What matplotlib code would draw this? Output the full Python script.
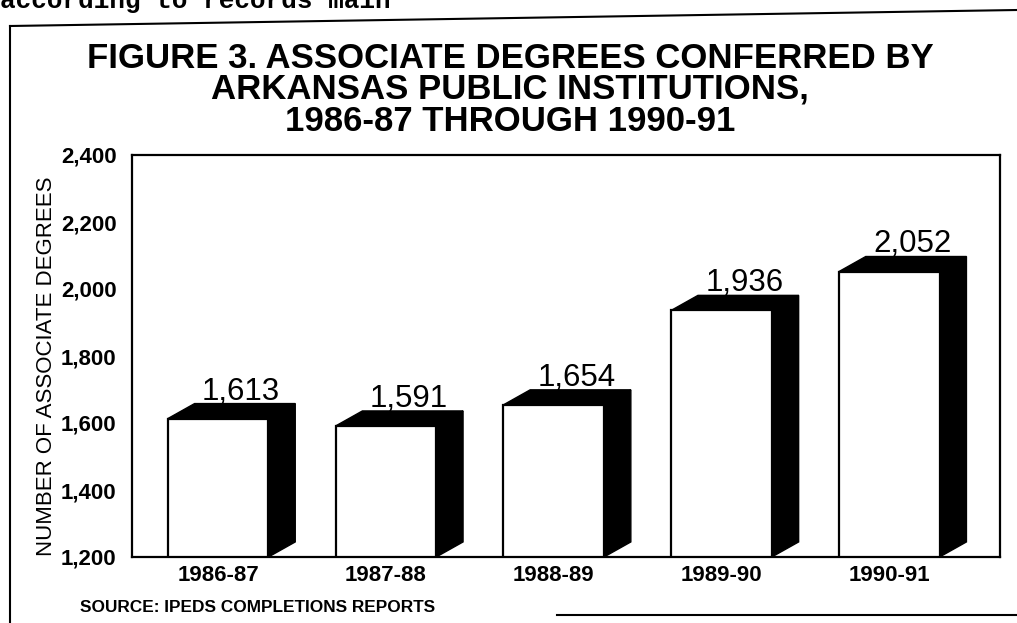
import matplotlib
matplotlib.use('Agg')
import matplotlib.pyplot as plt
from matplotlib.patches import Polygon
from matplotlib.lines import Line2D

### data
years = ['1986-87', '1987-88', '1988-89', '1989-90', '1990-91']
degrees = [1613, 1591, 1654, 1936, 2052]
y_ticks = [1200, 1400, 1600, 1800, 2000, 2200, 2400]

W, H = 1017, 623
plt.rcParams['font.family'] = ['Liberation Sans', 'DejaVu Sans']

fig = plt.figure(figsize=(W / 100, H / 100), dpi=100)
fig.patch.set_facecolor('white')

# plot box (pixel positions)
left, right, top, bottom = 132, 1000, 155, 557
ax = fig.add_axes([left / W, 1 - bottom / H, (right - left) / W, (bottom - top) / H])

bar_w = 0.6     # front face width
dx = 0.16       # 3d depth to the right
dy = 45         # 3d depth upwards (data units)
base = 1200

x = list(range(len(years)))
ax.bar(x, [v - base for v in degrees], bottom=base, width=bar_w,
       color='white', edgecolor='black', linewidth=1.6, zorder=3)

for xi, v in zip(x, degrees):
    x0, x1 = xi - bar_w / 2, xi + bar_w / 2
    # top face
    ax.add_patch(Polygon([(x0, v), (x0 + dx, v + dy), (x1 + dx, v + dy), (x1, v)],
                         closed=True, facecolor='black', edgecolor='black', lw=1, zorder=2))
    # side face
    ax.add_patch(Polygon([(x1, base), (x1, v), (x1 + dx, v + dy), (x1 + dx, base + dy)],
                         closed=True, facecolor='black', edgecolor='black', lw=1, zorder=2))
    ax.text(xi + 0.137, v + dy + 12, f'{v:,}', ha='center', va='baseline',
            fontsize=22.5, color='black', zorder=4)

ax.set_xlim(-0.513, 4.66)
ax.set_ylim(1200, 2400)
ax.set_yticks(y_ticks)
ax.set_yticklabels([f'{t:,}' for t in y_ticks], fontsize=16, fontweight='bold')
ax.set_xticks(x)
ax.set_xticklabels(years, fontsize=16, fontweight='bold')
ax.tick_params(axis='y', length=0, pad=11)
ax.tick_params(axis='x', length=0, pad=6)
for s in ax.spines.values():
    s.set_linewidth(1.6)

# titles and notes
title_lines = ['FIGURE 3. ASSOCIATE DEGREES CONFERRED BY',
               'ARKANSAS PUBLIC INSTITUTIONS,',
               '1986-87 THROUGH 1990-91']
for line, yb in zip(title_lines, [68, 99, 131]):
    fig.text(510 / W, 1 - yb / H, line, ha='center', va='baseline',
             fontsize=25, fontweight='bold')

fig.text(47 / W, 1 - 366 / H, 'NUMBER OF ASSOCIATE DEGREES', rotation=90,
         ha='center', va='center', fontsize=16)
fig.text(80 / W, 1 - 612 / H, 'SOURCE: IPEDS COMPLETIONS REPORTS', ha='left',
         va='baseline', fontsize=12.4, fontweight='bold')

# cut-off line of document text above the figure
fig.text(0, 1 - 8 / H, 'according to records main', ha='left', va='baseline',
         fontsize=18.7, fontweight='bold', family='Liberation Mono')

# outer frame of the figure
fig.add_artist(Line2D([10 / W, 10 / W], [1 - 26 / H, 0], color='black', lw=1.5))
fig.add_artist(Line2D([10 / W, 1], [1 - 26 / H, 1 - 10 / H], color='black', lw=1.5))
fig.add_artist(Line2D([557 / W, 1], [1 - 615 / H, 1 - 615 / H], color='black', lw=1.5))

fig.savefig('out.png', dpi=100)
